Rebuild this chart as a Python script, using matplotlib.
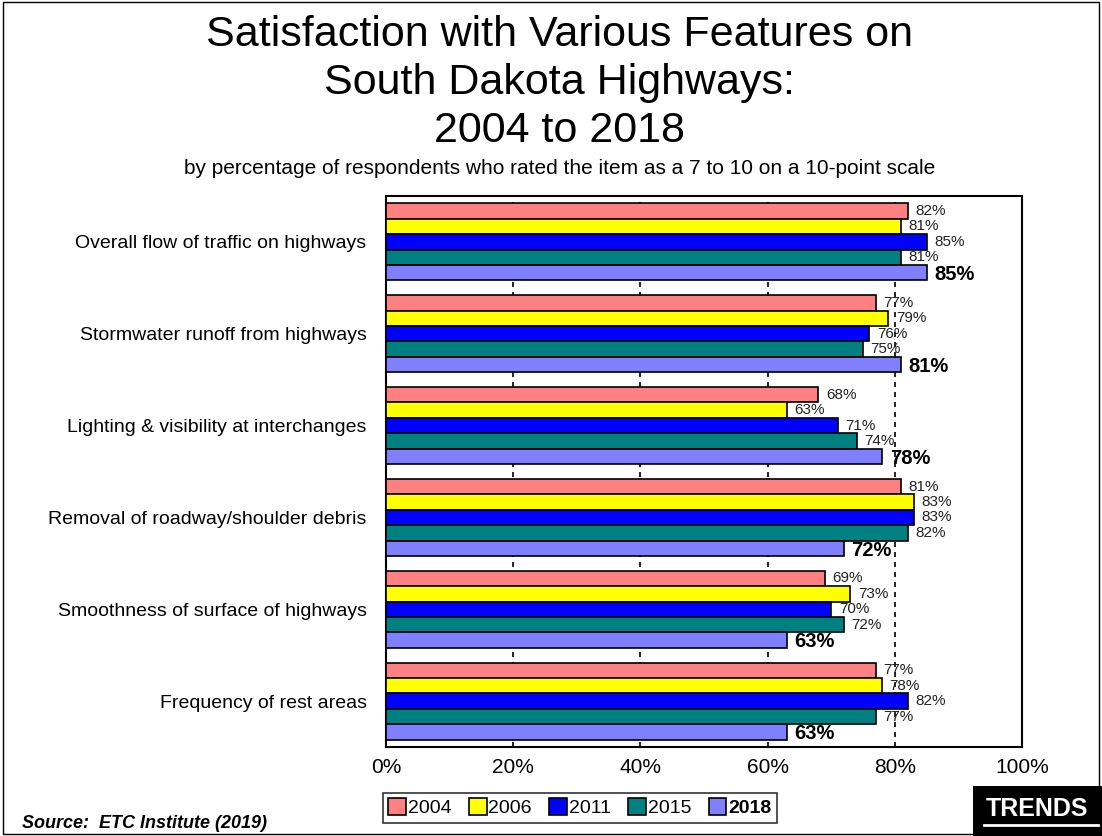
import matplotlib.pyplot as plt
import numpy as np
from matplotlib.patches import Rectangle

plt.rcParams['font.family'] = ['Liberation Sans', 'DejaVu Sans']

# данные
categories = ['Overall flow of traffic on highways',
              'Stormwater runoff from highways',
              'Lighting & visibility at interchanges',
              'Removal of roadway/shoulder debris',
              'Smoothness of surface of highways',
              'Frequency of rest areas']
years = ['2004', '2006', '2011', '2015', '2018']
v2004 = [82, 77, 68, 81, 69, 77]
v2006 = [81, 79, 63, 83, 73, 78]
v2011 = [85, 76, 71, 83, 70, 82]
v2015 = [81, 75, 74, 82, 72, 77]
v2018 = [85, 81, 78, 72, 63, 63]
colors = ['#ff8080', '#ffff00', '#0000ff', '#008080', '#8080ff']

series = [v2004, v2006, v2011, v2015, v2018]

fig = plt.figure(figsize=(11.02, 8.36), dpi=100)
ax = fig.add_axes([386 / 1102, 1 - 747 / 836, (1022 - 386) / 1102, (747 - 196) / 836])

n = len(categories)
bh = 0.168
y0 = np.arange(n)
for j, (vals, c) in enumerate(zip(series, colors)):
    ys = y0 - 2 * bh + j * bh
    ax.barh(ys, vals, height=bh, color=c, edgecolor='black', linewidth=1.2,
            label=years[j], zorder=3)
    for y, v in zip(ys, vals):
        if j == 4:
            ax.text(v + 1.2, y + 0.02, f'{v}%', va='center', ha='left',
                    fontsize=14.5, fontweight='bold', zorder=4)
        else:
            ax.text(v + 1.2, y, f'{v}%', va='center', ha='left',
                    fontsize=11, color='#222222', zorder=4)

ax.set_xlim(0, 100)
ax.set_ylim(n - 0.5, -0.5)
ax.set_yticks(y0)
ax.set_yticklabels(categories, fontsize=14)
ax.set_xticks(range(0, 101, 20))
ax.set_xticklabels([f'{x}%' for x in range(0, 101, 20)], fontsize=15)
ax.tick_params(axis='y', length=0, pad=14)
ax.tick_params(axis='x', length=0, pad=8)
for x in [20, 40, 60, 80]:
    ax.axvline(x, color='black', linestyle=(0, (3, 3)), linewidth=1.2, zorder=1)
for s in ax.spines.values():
    s.set_linewidth(1.5)

leg = ax.legend(loc='upper center', bbox_to_anchor=(0.305, -0.065), ncol=5,
                frameon=True, fancybox=False, edgecolor='black', fontsize=14,
                handlelength=0.9, handleheight=0.9, handletextpad=0.1,
                columnspacing=0.9, borderpad=0.3)
leg.get_frame().set_linewidth(1.2)
leg.get_texts()[-1].set_fontweight('bold')

fig.text(0.508, 0.982, 'Satisfaction with Various Features on\nSouth Dakota Highways:\n2004 to 2018',
         ha='center', va='top', fontsize=31, linespacing=1.26)
fig.text(0.508, 0.799, 'by percentage of respondents who rated the item as a 7 to 10 on a 10-point scale',
         ha='center', va='center', fontsize=15)
fig.text(0.02, 0.005, 'Source:  ETC Institute (2019)', ha='left', va='bottom',
         fontsize=13, fontweight='bold', style='italic')

fig.patches.append(Rectangle((973 / 1102, 0), 129 / 1102, 50 / 836, transform=fig.transFigure,
                             facecolor='black', edgecolor='none'))
fig.text(1037 / 1102, 27 / 836, 'TRENDS', color='white', ha='center', va='center',
         fontsize=18, fontweight='bold')
fig.lines.append(plt.Line2D([984 / 1102, 1098 / 1102], [11 / 836, 11 / 836],
                            transform=fig.transFigure, color='white', linewidth=2))
fig.patches.append(Rectangle((0.003, 0.002), 0.994, 0.996, transform=fig.transFigure,
                             facecolor='none', edgecolor='black', linewidth=1))

fig.savefig('out.png', dpi=100)
